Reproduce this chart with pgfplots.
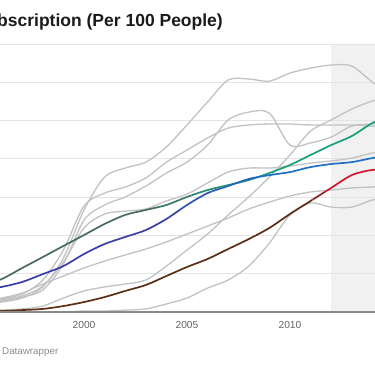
\documentclass[border=0pt]{standalone}
\usepackage{pgfplots}
\usepackage{pgfplotstable}
\pgfplotsset{compat=1.18}
\usepackage{fontspec}
\setmainfont{Liberation Sans}
\definecolor{gridc}{HTML}{E4E4E4}
\definecolor{shadec}{HTML}{F1F1F1}
\definecolor{grayl}{HTML}{C2C2C2}
\definecolor{axisc}{HTML}{8A8A8A}
\definecolor{tickc}{HTML}{666666}
\definecolor{footc}{HTML}{8C8C8C}
\definecolor{titlec}{HTML}{1A1A1A}
\definecolor{grA}{HTML}{4A6A61}
\definecolor{grB}{HTML}{3A7A69}
\definecolor{grC}{HTML}{288C72}
\definecolor{grD}{HTML}{17A079}
\definecolor{blA}{HTML}{3A3FA6}
\definecolor{blB}{HTML}{3150B0}
\definecolor{blC}{HTML}{2862BA}
\definecolor{blD}{HTML}{1F70C3}
\definecolor{brA}{HTML}{5C2F15}
\definecolor{brB}{HTML}{8E2420}
\definecolor{brC}{HTML}{D4192F}

\pgfplotstableread{
year A B C Bump D E F green blue brown
1995 4.2 0.5 4.7 3.7 4.7 5.7 0 13.6 11.5 0
1996 5.2 1.0 6.8 5.7 6.3 7.3 0 17.2 13.1 0.5
1997 7.3 1.6 9.4 7.8 8.4 9.9 0 23.0 15.7 1.0
1998 13.1 3.1 16.7 11.5 13.6 14.6 0 28.7 19.8 1.6
1999 28.2 7.3 32.4 25.1 26.1 18.8 0 34.5 24.0 3.1
2000 53.3 11.0 55.4 48.0 43.9 23.0 0.5 40.2 30.3 5.2
2001 70.5 13.1 62.1 55.9 51.2 26.6 0.5 46.0 35.5 7.8
2002 75.2 14.6 65.3 60.1 52.7 29.8 1.0 50.7 39.2 11.0
2003 78.3 16.7 70.0 65.8 53.8 32.9 1.6 53.3 42.8 14.1
2004 86.2 24.0 78.3 72.6 58.0 36.6 4.2 55.9 48.6 18.8
2005 97.7 32.4 84.6 78.3 61.6 40.7 7.3 60.1 55.9 23.5
2006 109.7 40.7 90.9 87.2 67.4 44.9 12.5 63.7 62.1 27.7
2007 121.2 50.7 96.1 100.3 73.1 49.1 16.7 66.3 65.8 32.9
2008 121.7 60.1 97.7 104.4 75.2 53.8 24.0 68.9 69.5 38.1
2009 120.6 70.5 98.2 103.9 75.2 57.4 36.0 72.6 71.5 43.9
2010 124.8 82.0 98.2 87.2 76.2 60.6 50.7 76.8 73.1 51.2
2011 127.4 94.5 97.7 88.3 77.8 62.7 56.9 82.0 75.7 58.0
2012 129.0 100.3 97.7 91.4 78.9 63.7 54.8 87.2 77.3 64.8
2013 128.5 106.0 97.7 97.1 80.4 64.8 54.8 91.9 78.3 71.5
2014 120.1 110.2 97.1 98.2 83.0 65.3 58.5 98.7 80.4 74.2
2015 113.3 112.8 97.1 98.7 84.6 65.8 60.6 103.4 82.0 74.2
}\data

\newcommand{\seg}[4]{%
  \begin{scope}
    \clip (axis cs:#1,-10) rectangle (axis cs:#2,150);
    \addplot[#3, line width=1.7pt, smooth] table[x=year, y=#4]{\data};
  \end{scope}}

\begin{document}
\begin{tikzpicture}
\begin{axis}[
  at={(0pt,54pt)}, anchor=south west,
  scale only axis, width=375pt, height=268pt,
  xmin=1995.92, xmax=2014.13, ymin=0, ymax=140,
  clip=false, set layers,
  axis line style={draw=none},
  ymajorgrids, grid style={color=gridc, line width=0.9pt},
  ytick={20,40,60,80,100,120,140}, yticklabels={},
  xtick={2000,2005,2010}, xticklabels={2000,2005,2010},
  major tick length=0pt,
  xticklabel style={text=tickc, font=\fontsize{10.2}{12}\selectfont, yshift=-6pt},
]
\begin{pgfonlayer}{axis background}
\fill[shadec] (axis cs:2012,0) rectangle (axis cs:2016,140);
\end{pgfonlayer}
\addplot[grayl, line width=1.3pt, smooth] table[x=year, y=A]{\data};
\addplot[grayl, line width=1.3pt, smooth] table[x=year, y=B]{\data};
\addplot[grayl, line width=1.3pt, smooth] table[x=year, y=C]{\data};
\addplot[grayl, line width=1.3pt, smooth] table[x=year, y=Bump]{\data};
\addplot[grayl, line width=1.3pt, smooth] table[x=year, y=D]{\data};
\addplot[grayl, line width=1.3pt, smooth] table[x=year, y=E]{\data};
\addplot[grayl, line width=1.3pt, smooth] table[x=year, y=F]{\data};
\seg{1990}{2003.6}{grA}{green}
\seg{2003.6}{2005.2}{grB}{green}
\seg{2005.2}{2006.6}{grC}{green}
\seg{2006.6}{2020}{grD}{green}
\seg{1990}{2004.6}{blA}{blue}
\seg{2004.6}{2006.2}{blB}{blue}
\seg{2006.2}{2008.2}{blC}{blue}
\seg{2008.2}{2020}{blD}{blue}
\seg{1990}{2011.1}{brA}{brown}
\seg{2011.1}{2011.7}{brB}{brown}
\seg{2011.7}{2020}{brC}{brown}
\draw[axisc, line width=2pt] (axis cs:1990,0) -- (axis cs:2020,0);
\end{axis}
\node[anchor=base east, inner sep=0pt, text=titlec, font=\bfseries\fontsize{17.5}{21}\selectfont] at (223pt,339pt) {Mobile Cellular Subscription (Per 100 People)};
\node[anchor=base west, inner sep=0pt, text=footc, font=\fontsize{9.8}{12}\selectfont] at (2pt,11pt) {Datawrapper};
\pgfresetboundingbox
\useasboundingbox (0,0) rectangle (375pt,366pt);
\end{tikzpicture}
\end{document}
